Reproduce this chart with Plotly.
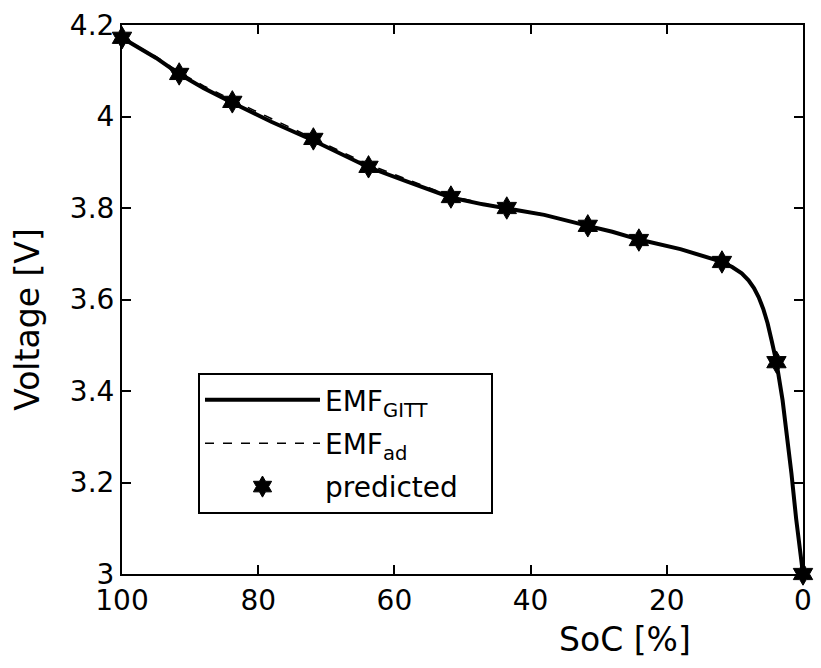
import plotly.graph_objects as go

# EMF from GITT (solid)
soc_gitt = [100, 95, 91.6, 88, 83.8, 78, 72, 68, 63.8, 58, 51.7, 47, 43.5, 38, 31.6,
            28, 24.1, 18, 12, 10.4, 9.0, 8.0, 7.2, 6.5, 5.8, 5.2, 4.6, 3.9, 3.0, 2.3,
            1.7, 1.0, 0.3, 0]
v_gitt = [4.172, 4.128, 4.093, 4.062, 4.030, 3.988, 3.948, 3.920, 3.889, 3.857, 3.823,
          3.808, 3.799, 3.785, 3.761, 3.748, 3.731, 3.710, 3.683, 3.671, 3.657, 3.642,
          3.625, 3.605, 3.578, 3.548, 3.510, 3.463, 3.380, 3.300, 3.220, 3.120, 3.030,
          3.000]

# EMF adaptive (dashed)
soc_ad = [100, 95, 91.6, 88, 83.8, 78, 72, 68, 63.8, 58, 51.7, 47, 43.5, 38, 31.6,
          28, 24.1, 18, 12, 10.4, 9.0, 8.0, 7.2, 6.5, 5.8, 5.2, 4.6, 3.9, 3.0, 2.3,
          1.7, 1.0, 0.3, 0]
v_ad = [4.172, 4.131, 4.097, 4.067, 4.036, 3.995, 3.954, 3.926, 3.895, 3.862, 3.826,
        3.810, 3.800, 3.786, 3.761, 3.748, 3.731, 3.710, 3.683, 3.671, 3.657, 3.642,
        3.625, 3.605, 3.578, 3.548, 3.510, 3.463, 3.380, 3.300, 3.220, 3.120, 3.030,
        3.000]

# predicted points
soc_pred = [100, 91.6, 83.8, 71.9, 63.8, 51.7, 43.5, 31.6, 24.1, 11.9, 3.9, 0]
v_pred = [4.172, 4.093, 4.032, 3.951, 3.890, 3.824, 3.800, 3.761, 3.730, 3.682, 3.463, 3.0]

x_ticks = [100, 80, 60, 40, 20, 0]
y_ticks = [3, 3.2, 3.4, 3.6, 3.8, 4, 4.2]
y_labels = ["3", "3.2", "3.4", "3.6", "3.8", "4", "4.2"]

FONT = "DejaVu Sans"
FS = 28
FT = 33

fig = go.Figure()
fig.add_trace(go.Scatter(x=soc_gitt, y=v_gitt, mode="lines",
                         line=dict(color="black", width=4),
                         name="EMF<sub>GITT</sub>", legendgroup="a"))
fig.add_trace(go.Scatter(x=soc_ad, y=v_ad, mode="lines",
                         line=dict(color="black", width=1.5, dash="dash"),
                         name="EMF<sub>ad</sub>", legendgroup="b"))
fig.add_trace(go.Scatter(x=soc_pred, y=v_pred, mode="markers",
                         marker=dict(symbol="hexagram", size=17, color="black",
                                     line=dict(color="black", width=1)),
                         name="predicted\u2003", legendgroup="c", cliponaxis=False))

axis_common = dict(showline=True, linecolor="black", linewidth=2, mirror="ticks",
                   ticks="inside", ticklen=9, tickwidth=2, tickcolor="black",
                   showgrid=False, zeroline=False,
                   tickfont=dict(family=FONT, size=FS, color="black"))

fig.update_xaxes(range=[100, 0], tickvals=x_ticks, ticktext=[str(v) for v in x_ticks],
                 **axis_common)
fig.update_yaxes(range=[3, 4.2], tickvals=y_ticks, ticktext=y_labels, **axis_common)

fig.update_layout(
    width=821, height=668,
    margin=dict(l=122, r=9, t=25, b=94),
    plot_bgcolor="white", paper_bgcolor="white",
    font=dict(family=FONT, size=FS, color="black"),
    legend=dict(x=0.1116, y=0.366, xanchor="left", yanchor="top",
                bordercolor="black", borderwidth=2, bgcolor="white",
                font=dict(family=FONT, size=FS, color="black"),
                tracegroupgap=4, itemwidth=115, traceorder="grouped"),
    annotations=[
        dict(text="SoC [%]", x=0.739, y=-0.12, xref="paper", yref="paper",
             showarrow=False, xanchor="center", yanchor="middle",
             font=dict(family=FONT, size=FT, color="black")),
        dict(text="Voltage [V]", x=-0.138, y=0.463, xref="paper", yref="paper",
             showarrow=False, textangle=-90, xanchor="center", yanchor="middle",
             font=dict(family=FONT, size=FT, color="black")),
    ],
)

fig.write_html("out.html")
